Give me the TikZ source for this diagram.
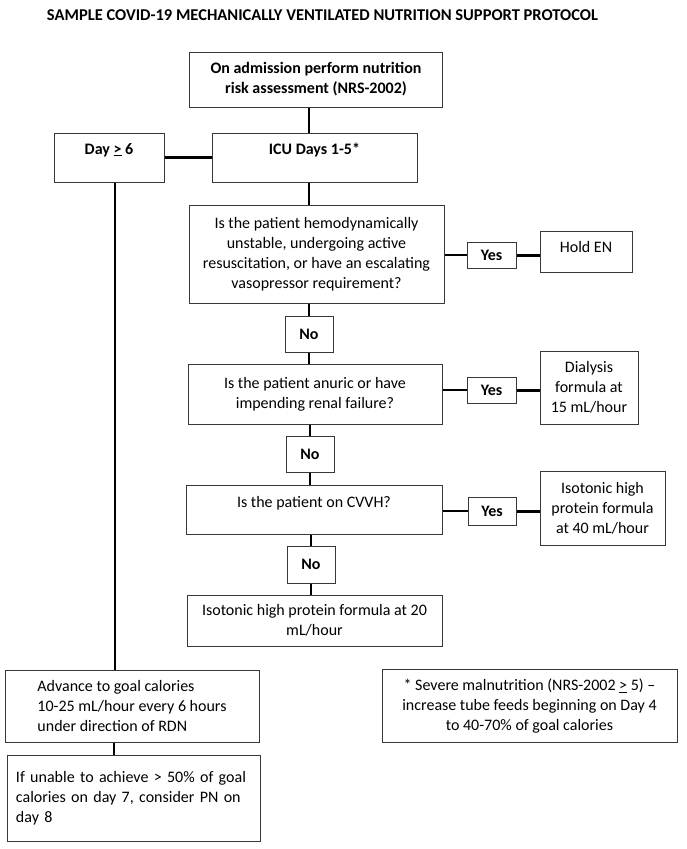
\documentclass[tikz,border=0pt]{standalone}
\usepackage{fontspec}
\setmainfont{Carlito}
\usetikzlibrary{positioning}

\begin{document}
\begin{tikzpicture}[
            x = 1pt, y = -1pt, % one unit per pixel, y going down
            font = \fontsize{16}{20}\selectfont, % body text
            line join = miter
        ]

        \tikzstyle{box}=[
            draw = black!78,
            line width = 1pt,
            inner sep = 0pt,
            align = center
        ]
        \tikzstyle{answer}=[
            box,
            font = \fontsize{16}{20}\selectfont\bfseries,
            minimum width = 48pt
        ]
        \tikzstyle{link}=[
            line width = 2.4pt
        ]
        \tikzstyle{yeslink}=[
            line width = 3pt
        ]

        \path[fill = white] (0,0) rectangle (686,849);
        \useasboundingbox (0,0) rectangle (686,849);

        \node (title) at (322.5,15) {\fontsize{16.5}{20}\selectfont\bfseries SAMPLE COVID-19 MECHANICALLY VENTILATED NUTRITION SUPPORT PROTOCOL};

        % main column
        \node[box, font = \fontsize{16}{20}\selectfont\bfseries, minimum width = 253pt, minimum height = 55pt] (adm) at (316,79.5) {On admission perform nutrition\\risk assessment (NRS-2002)};
        \node[box, font = \fontsize{16}{20}\selectfont\bfseries, minimum width = 205pt, minimum height = 49pt, text height = 10pt, text depth = 16.6pt] (icu) at (314.5,157.5) {ICU Days 1-5*};
        \node[box, font = \fontsize{16}{20}\selectfont\bfseries, minimum width = 110pt, minimum height = 49pt, text height = 10pt, text depth = 16.6pt] (day) at (109,157.5) {Day \underline{>} 6};
        \node[box, minimum width = 255pt, minimum height = 98pt] (q1) at (316.5,254) {Is the patient hemodynamically\\unstable, undergoing active\\resuscitation, or have an escalating\\vasopressor requirement?};
        \node[answer, minimum height = 36pt] (no1) at (309,334) {No};
        \node[box, minimum width = 254pt, minimum height = 60pt] (q2) at (315,394) {Is the patient anuric or have\\impending renal failure?};
        \node[answer, minimum height = 36pt] (no2) at (310,454) {No};
        \node[box, minimum width = 256pt, minimum height = 49pt, text height = 10pt, text depth = 14.6pt] (q3) at (314,509.5) {Is the patient on CVVH?};
        \node[answer, minimum height = 37pt] (no3) at (311,564.5) {No};
        \node[box, minimum width = 255pt, minimum height = 51pt] (q4) at (314.5,620.5) {Isotonic high protein formula at 20\\mL/hour};

        % yes branches
        \node[answer, minimum width = 49pt, minimum height = 26pt] (yes1) at (491.5,255) {Yes};
        \node[box, minimum width = 92pt, minimum height = 41pt, text height = 10pt, text depth = 8.6pt] (hold) at (586,251.5) {Hold EN};
        \node[answer, minimum width = 49pt, minimum height = 26pt] (yes2) at (491.5,390) {Yes};
        \node[box, minimum width = 98pt, minimum height = 73pt] (dial) at (589,387.5) {Dialysis\\formula at\\15 mL/hour};
        \node[answer, minimum width = 48pt, minimum height = 28pt] (yes3) at (492,511) {Yes};
        \node[box, minimum width = 125pt, minimum height = 74pt] (iso) at (602.5,508.5) {Isotonic high\\protein formula\\at 40 mL/hour};

        % day 6 onwards
        \node[box, align = left, minimum width = 254pt, minimum height = 72pt] (adv) at (132,706) {Advance to goal calories\\10-25 mL/hour every 6 hours\\under direction of RDN};
        \node[box, align = left, text width = 235pt, minimum width = 253pt, minimum height = 86pt] (pn) at (133.5,798) {If unable to achieve > 50\% of goal\\calories on day 7, consider PN on\\day 8};
        \node[box, minimum width = 295pt, minimum height = 73pt] (note) at (529.5,706) {* Severe malnutrition (NRS-2002 \underline{>} 5) --\\increase tube feeds beginning on Day 4\\to 40-70\% of goal calories};

        \draw[link] (adm.south -| no1) -- (icu.north -| no1);
        \draw[link] (icu.south -| no1) -- (q1.north -| no1);
        \draw[link] (q1.south -| no1) -- (no1);
        \draw[link] (no1) -- (q2.north -| no1);
        \draw[link] (q2.south -| no2) -- (no2);
        \draw[link] (no2) -- (q3.north -| no2);
        \draw[link] (q3.south -| no3) -- (no3);
        \draw[link] (no3) -- (q4.north -| no3);

        \draw[link] (day) -- (icu);
        \draw[link] ([xshift=6pt]day.south) -- ([xshift=6pt]day.south |- adv.north);
        \draw[link] ([xshift=-18pt]adv.south) -- ([xshift=-18pt]adv.south |- pn.north);

        \draw[link] (q1.east |- yes1) -- (yes1);
        \draw[yeslink] (yes1) -- (yes1 -| hold.west);
        \draw[link] (q2.east |- yes2) -- (yes2);
        \draw[yeslink] (yes2) -- (yes2 -| dial.west);
        \draw[link] (q3.east |- yes3) -- (yes3);
        \draw[yeslink] (yes3) -- (yes3 -| iso.west);

    \end{tikzpicture}
\end{document}
